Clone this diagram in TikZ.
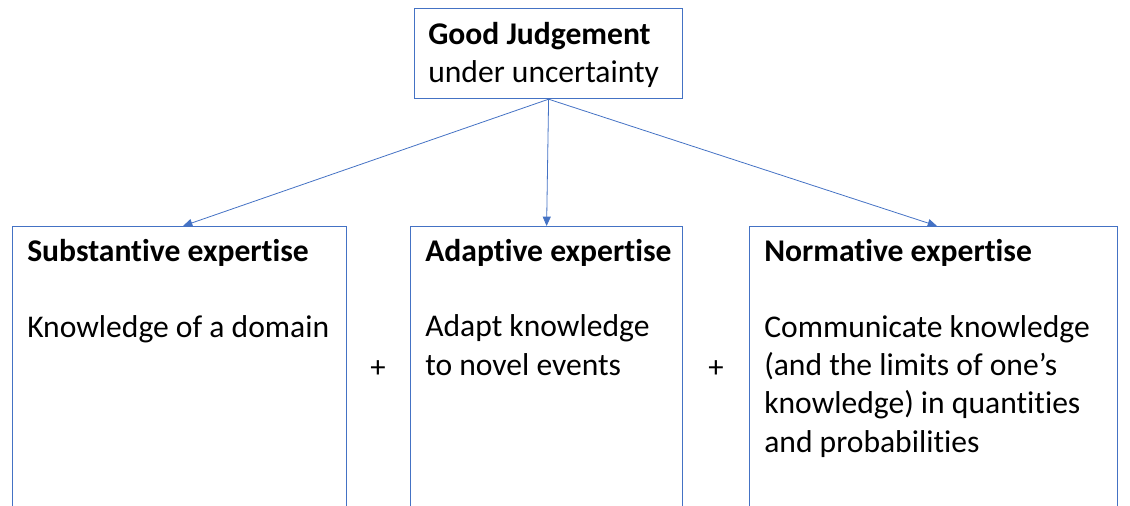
\documentclass[tikz,border=0pt]{standalone}
\usepackage{fontspec}
\setmainfont{Carlito}[Ligatures=NoCommon]
\usetikzlibrary{arrows.meta}
\definecolor{edge}{HTML}{4472C4}
\begin{document}
\begin{tikzpicture}[x=0.75pt,y=-0.75pt,
  box/.style={draw=edge,line width=0.9pt,anchor=north west,inner sep=0pt},
  % base west of a multi-line node sits on its last line
  txt/.style={anchor=base west,inner sep=0pt,align=left,font=\fontsize{23.7}{28.7}\selectfont},
  link/.style={draw=edge,line width=0.6pt,-{Triangle[length=7pt,width=6pt]}}]
\useasboundingbox (0,0) rectangle (1130,506);
\clip (0,0) rectangle (1130,506);

% boxes
\node[box,minimum width=201pt,minimum height=67.5pt] (top) at (414,8) {};
\node[box,minimum width=250.5pt,minimum height=240pt] (sub) at (12,226) {};
\node[box,minimum width=204pt,minimum height=240pt] (ada) at (410,226) {};
\node[box,minimum width=276pt,minimum height=240pt] (nor) at (749,226) {};

% texts
\node[txt] (topt) at (428,83) {\textbf{Good Judgement}\\under uncertainty};
\node[txt] (subh) at (27,261) {\textbf{Substantive expertise}};
\node[txt] (subt) at (27,337) {Knowledge of a domain};
\node[txt] (adah) at (425,261) {\textbf{Adaptive expertise}};
\node[txt] (adat) at (425,375) {Adapt knowledge\\to novel events};
\node[txt] (norh) at (764,261) {\textbf{Normative expertise}};
\node[txt] (nort) at (764,452) {Communicate knowledge\\(and the limits of one’s\\knowledge) in quantities\\and probabilities};

% plus signs
\node[font=\fontsize{23}{28}\selectfont,inner sep=0pt] (p1) at (378,369) {+};
\node[font=\fontsize{23}{28}\selectfont,inner sep=0pt] (p2) at (716,369) {+};

% connectors
\coordinate (s1) at (183,226);
\coordinate (s3) at (937,226);
\draw[link] (top.south) -- (s1);
\draw[link] (top.south) -- (ada.north);
\draw[link] (top.south) -- (s3);
\end{tikzpicture}
\end{document}
